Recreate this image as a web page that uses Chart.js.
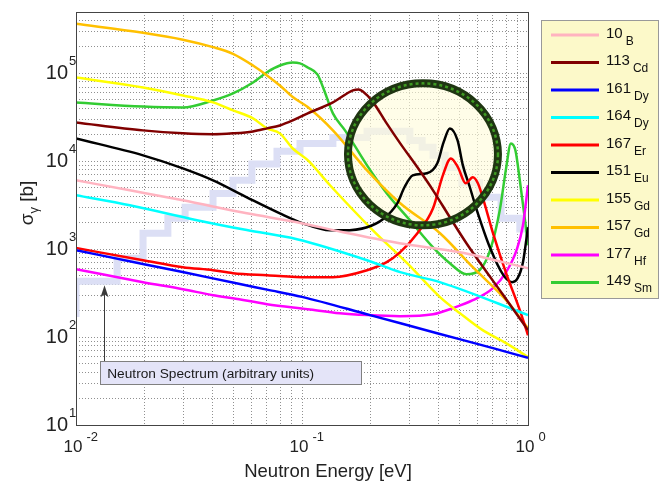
<!DOCTYPE html>
<html><head><meta charset="utf-8">
<script src="https://cdn.jsdelivr.net/npm/chart.js@4/dist/chart.umd.min.js"></script>
<style>html,body{margin:0;padding:0;background:#fff;overflow:hidden}</style>
</head><body>
<canvas id="c" width="663" height="481"></canvas>
<script>
const FONT = '"Liberation Sans", Arial, Helvetica, sans-serif';

// ---- data: neutron energy (eV) and capture cross section (barn) ----
const b10_E  = [0.01,0.0173,0.0297,0.057,0.095,0.152,0.27,0.5,1.0];
const b10_S  = [6080,4680,3600,2560,2030,1560,1170,925,608];

const cd113_E = [0.01,0.0198,0.0297,0.0404,0.0495,0.0607,0.07,0.0798,0.091,0.106,0.137,0.168,0.178,0.186,0.205,0.237,0.272,0.324,0.38,0.451,0.534,0.657,0.778,1.0];
const cd113_S = [27700,22500,20800,20300,20800,21900,23700,25600,29200,35100,46800,64100,65800,62400,48100,27000,16000,8550,4680,2310,1170,548,300,120];

const dy161_E = [0.01,0.02,0.03,0.05,0.07,0.1,0.2,0.4,0.7,1.0];
const dy161_S = [975,676,546,415,347,287,178,110,75,58];

const dy164_E = [0.01,0.0173,0.0343,0.057,0.095,0.194,0.272,0.41,1.0];
const dy164_S = [4110,3160,2140,1650,1300,750,548,420,178];

const er167_E = [0.01,0.0198,0.0297,0.0404,0.0495,0.07,0.106,0.137,0.194,0.237,0.272,0.324,0.38,0.42,0.456,0.49,0.53,0.57,0.60,0.636,0.70,0.80,0.92,1.0];
const er167_S = [1030,750,624,577,534,507,481,481,577,712,925,1520,2920,6930,10800,8550,5620,6580,5620,3600,1520,534,203,105];

const eu151_E = [0.01,0.0198,0.0297,0.0404,0.057,0.0798,0.101,0.133,0.152,0.194,0.228,0.264,0.284,0.309,0.357,0.397,0.423,0.451,0.488,0.515,0.553,0.594,0.68,0.778,0.85,0.90,0.95,1.0];
const eu151_S = [18200,11700,8320,6080,3900,2560,1970,1640,1640,1780,2190,3330,5070,6930,7310,9490,16400,23700,17300,9000,5070,2770,1030,507,422,468,712,1780];

const gd155_E = [0.01,0.0198,0.0297,0.0404,0.0495,0.0607,0.07,0.0798,0.091,0.106,0.133,0.206,0.292,0.408,0.50,0.63,0.80,1.0];
const gd155_S = [90000,69300,56200,46800,38000,30800,23700,20800,14000,10300,5340,1640,693,285,187,120,85.5,59.3];

const gd157_E = [0.01,0.0198,0.0297,0.0404,0.0495,0.0607,0.07,0.0798,0.091,0.106,0.137,0.194,0.272,0.408,0.57,0.80,1.0];
const gd157_S = [367000,290000,242000,199000,167000,123000,95000,73000,53800,41400,22500,7900,3330,1520,624,263,126];

const hf177_E = [0.01,0.0198,0.0297,0.0404,0.0495,0.07,0.106,0.147,0.194,0.272,0.38,0.466,0.57,0.70,0.80,0.89,0.95,1.0];
const hf177_S = [593,422,351,300,277,237,208,187,178,173,182,214,263,361,548,975,1870,5340];

const sm149_E = [0.01,0.0198,0.0297,0.0404,0.0495,0.0607,0.07,0.0798,0.091,0.098,0.106,0.117,0.124,0.137,0.155,0.194,0.237,0.30,0.38,0.451,0.534,0.61,0.68,0.75,0.80,0.84,0.88,0.92,0.97,1.0];
const sm149_S = [46800,42000,41000,49300,59300,79000,103000,123000,133000,130000,117000,97500,69300,35100,22500,9000,4330,2140,1050,693,520,577,975,2770,8320,16000,13300,6080,2140,1110];

// neutron spectrum (arbitrary units), step bins: left edge energy, level
const spec_E = [0.01,0.01,0.0152,0.0198,0.0255,0.0304,0.0404,0.0495,0.06,0.0775,0.098,0.137,0.194,0.30,0.34,0.38,0.43,0.51,0.61,0.76,0.92,1.0];
const spec_S = [169,433,791,1520,2250,3000,4300,6100,9300,13000,16000,18700,22000,17300,14500,11700,8500,5700,3900,2250,1700,1700];

// series names (mass number, element)
const legendNums = ['10','113','161','164','167','151','155','157','177','149'];
const legendSubs = ['B','Cd','Dy','Dy','Er','Eu','Gd','Gd','Hf','Sm'];

// axis tick labels (powers of ten)
const xTickExps = [-2, -1, 0];
const yTickExps = [1, 2, 3, 4, 5];
const X_MIN = 0.01, X_MAX = 1, Y_MIN = 10, Y_MAX = 5e5;

// ---- styles ----
const seriesColors = ['#ffb3c0','#800000','#0000ff','#00ffff','#ff0000','#000000','#ffff00','#ffc000','#ff00ff','#33cc33'];
const seriesData = [
  [b10_E,b10_S],[cd113_E,cd113_S],[dy161_E,dy161_S],[dy164_E,dy164_S],[er167_E,er167_S],
  [eu151_E,eu151_S],[gd155_E,gd155_S],[gd157_E,gd157_S],[hf177_E,hf177_S],[sm149_E,sm149_S]
];
const toPts = (E,S) => E.map((e,i)=>({x:e,y:S[i]}));

function gridValues(min, max) {
  const out = [];
  for (let e = Math.floor(Math.log10(min)); e <= Math.ceil(Math.log10(max)); e++) {
    for (let m = 1; m <= 9; m++) {
      const v = m * Math.pow(10, e);
      if (v >= min * 0.999 && v <= max * 1.001) out.push(v);
    }
  }
  return out;
}

const datasets = seriesData.map((d,i)=>({
  label: legendNums[i] + ' ' + legendSubs[i],
  data: toPts(d[0], d[1]),
  borderColor: seriesColors[i],
  borderWidth: 2.5,
  pointRadius: 0,
  cubicInterpolationMode: 'monotone',
  fill: false
}));
const SPEC_INDEX = datasets.length;
datasets.push({
  label: 'Neutron Spectrum',
  data: toPts(spec_E, spec_S),
  borderColor: '#dcdff5',
  borderWidth: 7,
  pointRadius: 0,
  stepped: true,
  borderJoinStyle: 'miter',
  borderCapStyle: 'butt',
  order: 100,
  fill: false
});

function txt(ctx, s, x, y, size, align, color) {
  ctx.font = size + 'px ' + FONT;
  ctx.textAlign = align || 'left';
  ctx.textBaseline = 'alphabetic';
  ctx.fillStyle = color || '#111';
  ctx.fillText(s, x, y);
  return ctx.measureText(s).width;
}

const deco = {
  id: 'deco',
  afterDatasetDraw(chart, args) {
    if (args.index !== SPEC_INDEX) return;
    const ctx = chart.ctx, xs = chart.scales.x, ys = chart.scales.y;
    const cx = xs.getPixelForValue(0.343), cy = ys.getPixelForValue(12000);
    ctx.save();
    ctx.beginPath();
    ctx.ellipse(cx, cy, 75, 71, 0, 0, Math.PI*2);
    ctx.fillStyle = 'rgba(255,252,218,0.62)';
    ctx.fill();
    ctx.restore();
  },
  afterDatasetsDraw(chart) {
    const ctx = chart.ctx, xs = chart.scales.x, ys = chart.scales.y, a = chart.chartArea;
    // highlight ring
    const cx = xs.getPixelForValue(0.343), cy = ys.getPixelForValue(12000);
    ctx.save();
    ctx.beginPath();
    ctx.ellipse(cx, cy, 75, 71, 0, 0, Math.PI*2);
    ctx.lineWidth = 8; ctx.strokeStyle = '#1f3512'; ctx.stroke();
    ctx.setLineDash([3,3]);
    ctx.lineWidth = 2.5; ctx.strokeStyle = '#3f9a22'; ctx.stroke();
    ctx.restore();
    // frame
    ctx.save();
    ctx.strokeStyle = '#444'; ctx.lineWidth = 1;
    ctx.strokeRect(Math.round(a.left)+0.5, Math.round(a.top)+0.5, Math.round(a.right-a.left), Math.round(a.bottom-a.top));
    ctx.restore();
    // spectrum annotation box + arrow
    const bx1 = xs.getPixelForValue(0.0128), bx2 = xs.getPixelForValue(0.182);
    const by1 = ys.getPixelForValue(53.4), by2 = ys.getPixelForValue(29.2);
    const ax = xs.getPixelForValue(0.0133), ayTip = ys.getPixelForValue(390);
    ctx.save();
    ctx.strokeStyle = '#3a3a3a'; ctx.fillStyle = '#3a3a3a'; ctx.lineWidth = 1;
    ctx.beginPath(); ctx.moveTo(Math.round(ax)+0.5, by1); ctx.lineTo(Math.round(ax)+0.5, ayTip+8); ctx.stroke();
    ctx.beginPath(); ctx.moveTo(Math.round(ax)+0.5, ayTip); ctx.lineTo(Math.round(ax)+4.5, ayTip+12); ctx.lineTo(Math.round(ax)+0.5, ayTip+9); ctx.lineTo(Math.round(ax)-3.5, ayTip+12); ctx.closePath(); ctx.fill();
    ctx.fillStyle = '#e4e4f8';
    ctx.fillRect(Math.round(bx1)+0.5, Math.round(by1)+0.5, Math.round(bx2-bx1), Math.round(by2-by1));
    ctx.strokeStyle = '#808080';
    ctx.strokeRect(Math.round(bx1)+0.5, Math.round(by1)+0.5, Math.round(bx2-bx1), Math.round(by2-by1));
    txt(ctx, 'Neutron Spectrum (arbitrary units)', bx1 + 7, by2 - 6, 13.7, 'left', '#1a1a1a');
    ctx.restore();
  },
  afterDraw(chart) {
    const ctx = chart.ctx, xs = chart.scales.x, ys = chart.scales.y, a = chart.chartArea;
    ctx.save();
    // y tick labels
    yTickExps.forEach(e => {
      const y = ys.getPixelForValue(Math.pow(10, e));
      txt(ctx, '10', a.left - 8, y + 6, 20, 'right', '#222');
      txt(ctx, String(e), a.left - 7, y - 8, 13, 'left', '#222');
    });
    // x tick labels
    xTickExps.forEach(e => {
      const x = xs.getPixelForValue(Math.pow(10, e));
      const w = txt(ctx, '10', x - 3, a.bottom + 27, 17, 'center', '#222');
      txt(ctx, String(e), x - 3 + w/2 + 4, a.bottom + 16, 13, 'left', '#222');
    });
    // x axis title
    txt(ctx, 'Neutron Energy [eV]', 328, 477, 18.5, 'center', '#222');
    // y axis title (rotated)
    ctx.save();
    ctx.translate(33, 203);
    ctx.rotate(-Math.PI/2);
    ctx.font = '19px ' + FONT;
    const w1 = ctx.measureText('\u03c3').width;
    ctx.font = '13px ' + FONT;
    const w2 = ctx.measureText('\u03b3').width;
    ctx.font = '19px ' + FONT;
    const w3 = ctx.measureText(' [b]').width;
    let sx = -(w1 + w2 + w3) / 2;
    txt(ctx, '\u03c3', sx, 0, 19, 'left', '#222'); sx += w1;
    txt(ctx, '\u03b3', sx, 5, 13, 'left', '#222'); sx += w2;
    txt(ctx, ' [b]', sx, 0, 19, 'left', '#222');
    ctx.restore();
    // legend
    const lx = 541, ly = 20, lw = 117, lh = 278;
    ctx.fillStyle = '#fcf9c9';
    ctx.fillRect(lx, ly, lw, lh);
    ctx.strokeStyle = '#999'; ctx.lineWidth = 1;
    ctx.strokeRect(lx + 0.5, ly + 0.5, lw, lh);
    legendNums.forEach((n, i) => {
      const yy = 35 + i * 27.5;
      ctx.beginPath();
      ctx.moveTo(551, yy); ctx.lineTo(599, yy);
      ctx.lineWidth = 3; ctx.strokeStyle = seriesColors[i]; ctx.stroke();
      const nw = txt(ctx, n, 606, yy + 2.5, 15, 'left', '#111');
      txt(ctx, legendSubs[i], 606 + nw + 3, yy + 9.5, 12, 'left', '#111');
    });
    ctx.restore();
  }
};

const gridCommon = { color: 'rgba(70,70,70,0.6)', lineWidth: 1, drawTicks: false };
new Chart(document.getElementById('c'), {
  type: 'line',
  data: { datasets },
  options: {
    responsive: false,
    animation: false,
    devicePixelRatio: 1,
    parsing: true,
    layout: { padding: { left: 76, top: 12, right: 135, bottom: 56 } },
    plugins: { legend: { display: false }, tooltip: { enabled: false } },
    scales: {
      x: {
        type: 'logarithmic', min: X_MIN, max: X_MAX,
        afterBuildTicks: s => { s.ticks = gridValues(X_MIN, X_MAX).map(v => ({ value: v })); },
        ticks: { display: false },
        grid: gridCommon,
        border: { display: false, dash: [1, 2] }
      },
      y: {
        type: 'logarithmic', min: Y_MIN, max: Y_MAX,
        afterBuildTicks: s => { s.ticks = gridValues(Y_MIN, Y_MAX).map(v => ({ value: v })); },
        ticks: { display: false },
        grid: gridCommon,
        border: { display: false, dash: [1, 2] }
      }
    }
  },
  plugins: [deco]
});
</script>
</body></html>
